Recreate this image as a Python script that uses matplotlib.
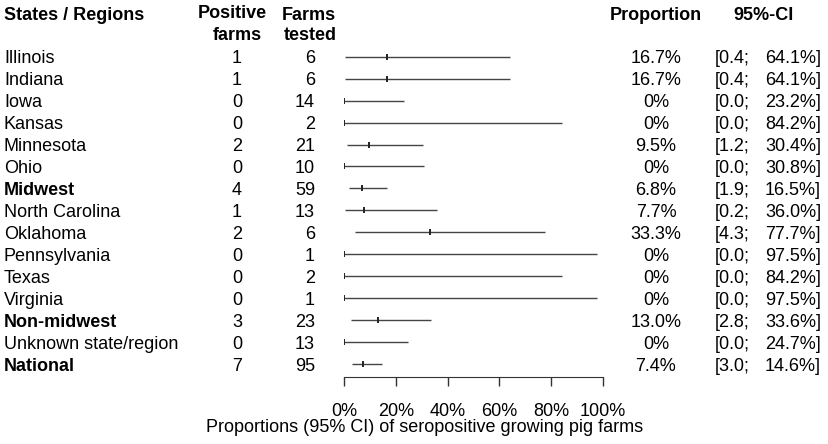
import matplotlib
matplotlib.use("Agg")
import matplotlib.pyplot as plt
import matplotlib.transforms as mtransforms

plt.rcParams["font.family"] = ["Liberation Sans", "DejaVu Sans"]
plt.rcParams["font.size"] = 13

# data
regions = ["Illinois", "Indiana", "Iowa", "Kansas", "Minnesota", "Ohio",
           "Midwest", "North Carolina", "Oklahoma", "Pennsylvania", "Texas",
           "Virginia", "Non-midwest", "Unknown state/region", "National"]
positive = [1, 1, 0, 0, 2, 0, 4, 1, 2, 0, 0, 0, 3, 0, 7]
tested = [6, 6, 14, 2, 21, 10, 59, 13, 6, 1, 2, 1, 23, 13, 95]
prop = [16.7, 16.7, 0, 0, 9.5, 0, 6.8, 7.7, 33.3, 0, 0, 0, 13.0, 0, 7.4]
ci_low = [0.4, 0.4, 0.0, 0.0, 1.2, 0.0, 1.9, 0.2, 4.3, 0.0, 0.0, 0.0, 2.8, 0.0, 3.0]
ci_high = [64.1, 64.1, 23.2, 84.2, 30.4, 30.8, 16.5, 36.0, 77.7, 97.5, 84.2,
           97.5, 33.6, 24.7, 14.6]
summary_rows = ["Midwest", "Non-midwest", "National"]
xticks = [0, 20, 40, 60, 80, 100]

W, H = 829, 444
fig = plt.figure(figsize=(W / 100, H / 100), dpi=100)


def fx(px):
    return px / W


def fy(py):
    return (H - py) / H


# forest panel: 0% at x=344px, 100% at x=603px
ax = fig.add_axes([fx(344), fy(376.7), 259 / W, (376.7 - 35) / H])
ax.set_xlim(0, 100)
ax.set_ylim(14.58, -0.99)

rows = list(range(len(regions)))
line_col = "#454545"
for i in rows:
    ax.plot([ci_low[i], ci_high[i]], [i, i], color=line_col, lw=1.0,
            solid_capstyle="butt")
ax.plot(prop, rows, linestyle="none", marker="|", markersize=5,
        markeredgewidth=1.4, color="#222222")

for s in ["top", "right", "left"]:
    ax.spines[s].set_visible(False)
ax.spines["bottom"].set_bounds(0, 100)
ax.spines["bottom"].set_color("#333333")
ax.set_yticks([])
ax.set_xticks(xticks)
ax.set_xticklabels([f"{t}%" for t in xticks])
ax.tick_params(axis="x", direction="out", length=6.5, width=1, color="#333333",
               pad=12.6, labelsize=13)

# text columns: x in figure fraction, y in row units
tr = mtransforms.blended_transform_factory(fig.transFigure, ax.transData)
off = 0.30  # baseline sits half a cap height below the row line

for i, name in enumerate(regions):
    w = "bold" if name in summary_rows else "normal"
    kw = dict(transform=tr, va="baseline", clip_on=False)
    y = i + off
    ax.text(fx(4), y, name, ha="left", fontweight=w, **kw)
    ax.text(fx(237), y, str(positive[i]), ha="center", **kw)
    ax.text(fx(315), y, str(tested[i]), ha="right", **kw)
    ptxt = "0%" if prop[i] == 0 else f"{prop[i]:.1f}%"
    ax.text(fx(656), y, ptxt, ha="center", **kw)
    ax.text(fx(715), y, f"[{ci_low[i]:.1f};", ha="left", **kw)
    ax.text(fx(821), y, f"{ci_high[i]:.1f}%]", ha="right", **kw)

# headers
hdr = dict(va="baseline", fontweight="bold")
fig.text(fx(4), fy(20), "States / Regions", ha="left", **hdr)
fig.text(fx(232), fy(18.5), "Positive", ha="center", **hdr)
fig.text(fx(237), fy(39.5), "farms", ha="center", **hdr)
fig.text(fx(309), fy(20), "Farms", ha="center", **hdr)
fig.text(fx(310), fy(40.5), "tested", ha="center", **hdr)
fig.text(fx(656), fy(20), "Proportion", ha="center", **hdr)
fig.text(fx(764), fy(20), "95%-CI", ha="center", **hdr)

fig.text(fx(425), fy(432), "Proportions (95% CI) of seropositive growing pig farms",
         ha="center", va="baseline")

fig.savefig("out.png", dpi=100)
